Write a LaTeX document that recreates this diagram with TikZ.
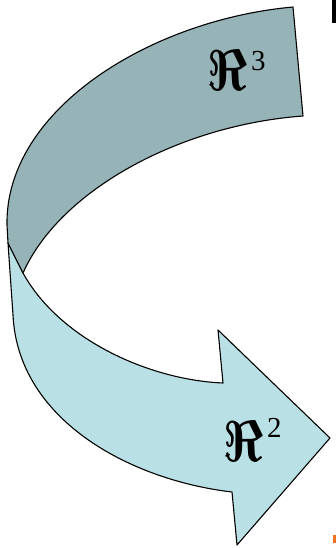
\documentclass[tikz,border=0pt]{standalone}
\usepackage{graphicx}
\usepackage{fontspec}
\setmainfont{Liberation Serif}
\begin{document}
\begin{tikzpicture}[x=1pt,y=-1pt,
  band/.style={draw=black,line width=1.1pt,line join=round},
  lbl/.style={anchor=base west,inner sep=0pt}]
\definecolor{darkband}{RGB}{150,179,183}
\definecolor{lightband}{RGB}{185,224,228}
\definecolor{markorange}{RGB}{240,112,32}
\newcommand{\bigRe}{\resizebox{40pt}{40pt}{\boldmath$\Re$}}
\newcommand{\supdigit}[2]{\kern4pt\raisebox{#1}{\fontsize{29}{29}\selectfont #2}}
\useasboundingbox (0,0) rectangle (336,548);
% light lower band with arrowhead
\path[band,fill=lightband] (8,243) -- (13,315)
  .. controls (18,420) and (130,480) .. (232,492)
  -- (237,545) -- (330,438) -- (218,330) -- (223,383)
  .. controls (150,380) and (60,340) .. (23,273) -- cycle;
% dark upper band
\path[band,fill=darkband] (293,7)
  .. controls (150,20) and (5,110) .. (7,225) -- (8,243) -- (23,273)
  .. controls (60,190) and (180,125) .. (303,116) -- cycle;
% labels
\node[lbl] (r3) at (207,91) {\bigRe\supdigit{20pt}{3}};
\node[lbl] (r2) at (223,461) {\bigRe\supdigit{24pt}{2}};
% edge marks
\fill[black] (332,0) rectangle (336,23);
\fill[markorange] (333,535) rectangle (336,543);
\end{tikzpicture}
\end{document}
